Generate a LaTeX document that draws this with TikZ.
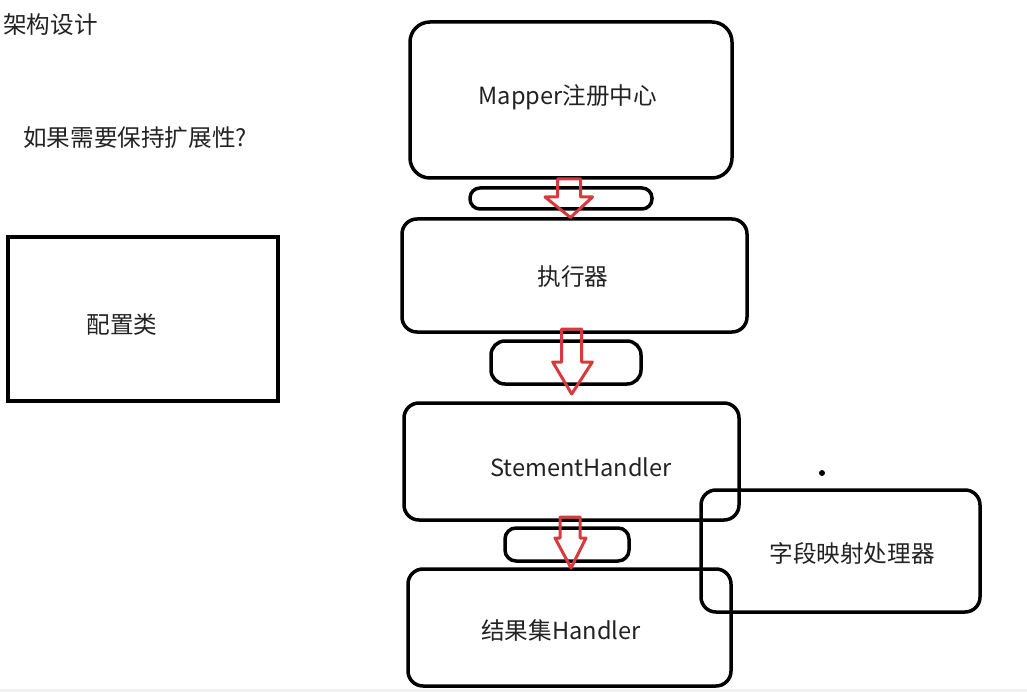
\documentclass[tikz,border=0pt]{standalone}
\usepackage{fontspec}
\setmainfont{Noto Sans CJK SC}
\definecolor{arrowred}{HTML}{D8393F}
\definecolor{inkc}{HTML}{222222}
\begin{document}
\begin{tikzpicture}[x=1pt,y=-1pt,
  txt/.style={inner sep=0pt,text=inkc,font=\fontsize{23.6}{28}\selectfont},
  rbox/.style={draw=black,line width=3.5pt,rounded corners=15pt,inner sep=0pt},
  pill/.style={draw=black,line width=3.5pt,inner sep=0pt},
  harrow/.style={draw=arrowred,line width=3pt,line join=round}]
\useasboundingbox (0,0) rectangle (1027,692);
\fill[black!5] (0,689) rectangle (1027,692);

% texts on the left
\node[txt,anchor=west] (title) at (3,25) {架构设计};
\node[txt,anchor=west] (question) at (23,138) {如果需要保持扩展性?};

% configuration box
\node[draw=black,line width=3.5pt,minimum width=270pt,minimum height=164pt,inner sep=0pt] (config) at (143,319) {};
\node[txt] (configtxt) at (122,325) {配置类};

% main column
\node[rbox,rounded corners=20pt,minimum width=322pt,minimum height=156pt] (mapper) at (571,100) {};
\node[txt] (mappertxt) at (568,97) {Mapper注册中心};

\node[pill,rounded corners=10pt,minimum width=182pt,minimum height=21pt] (p1) at (561,198.5) {};

\node[rbox,minimum width=345pt,minimum height=113pt] (exec) at (574.5,275.5) {};
\node[txt] (exectxt) at (573,277) {执行器};

\node[pill,rounded corners=14pt,minimum width=150pt,minimum height=43pt] (p2) at (566,362.5) {};

\node[rbox,minimum width=335pt,minimum height=117pt] (stmt) at (571.5,461.5) {};
\node[txt] (stmttxt) at (581,467) {StementHandler};

\node[pill,rounded corners=11pt,minimum width=124pt,minimum height=33pt] (p3) at (567,544.5) {};

\node[rbox,minimum width=323pt,minimum height=117pt] (result) at (569.5,627.5) {};
\node[txt] (resulttxt) at (561,630) {结果集Handler};

\node[rbox,minimum width=279pt,minimum height=122pt] (field) at (840.5,551) {};
\node[txt] (fieldtxt) at (852,553) {字段映射处理器};

\fill[black] (822,473) circle (3pt);

% hollow red arrows
\draw[harrow] (557.5,179) -- (580.5,179) -- (580.5,197) -- (592.5,197) -- (570.5,217.5)
  -- (545,197) -- (557.5,197) -- cycle;
\draw[harrow] (561.7,329) -- (581.7,329) -- (581.7,362) -- (592.3,362) -- (571.7,394)
  -- (552.7,362) -- (561.7,362) -- cycle;
\draw[harrow] (560,517) -- (580,517) -- (580,538) -- (586,538) -- (571,568)
  -- (555,538) -- (560,538) -- cycle;
\end{tikzpicture}
\end{document}
